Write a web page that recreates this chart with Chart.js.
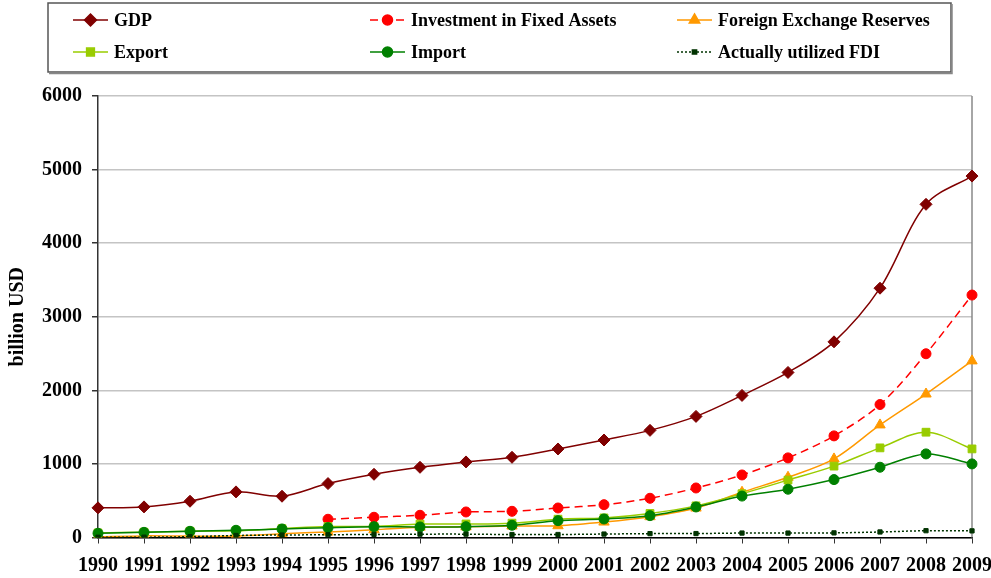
<!DOCTYPE html>
<html>
<head>
<meta charset="utf-8">
<script src="https://cdn.jsdelivr.net/npm/chart.js@4/dist/chart.umd.min.js"></script>
<style>
  html, body { margin: 0; padding: 0; background: #fff; overflow: hidden; }
  #wrap { width: 991px; height: 578px; }
</style>
</head>
<body>
<div id="wrap"><canvas id="chart" width="991" height="578"></canvas></div>
<script>
// Data (billion USD)
const years = ['1990', '1991', '1992', '1993', '1994', '1995', '1996', '1997', '1998', '1999',
  '2000', '2001', '2002', '2003', '2004', '2005', '2006', '2007', '2008', '2009'];
const gdp = [403, 416, 493, 620, 561, 733, 859, 954, 1027, 1090, 1203, 1325, 1456, 1646, 1931, 2243, 2659, 3388, 4528, 4912];
const investment = [null, null, null, null, null, 248, 275, 302, 347, 356, 401, 446, 533, 673, 850, 1082, 1381, 1807, 2497, 3295];
const reserves = [11, 22, 19, 21, 52, 74, 105, 140, 145, 156, 160, 210, 283, 400, 615, 819, 1068, 1530, 1950, 2400];
const exports = [62, 72, 85, 92, 121, 149, 151, 183, 184, 195, 249, 266, 326, 430, 595, 780, 970, 1218, 1431, 1204];
const imports = [57, 70, 84, 98, 116, 134, 147, 143, 147, 166, 229, 252, 297, 415, 563, 656, 787, 955, 1136, 1000];
const fdi = [3.5, 4.4, 11, 27.5, 33.8, 37.5, 41.7, 45.3, 45.5, 40.3, 40.7, 46.9, 52.7, 53.5, 60.6, 60.3, 63, 74.8, 92.4, 90];

const seriesNames = ['GDP', 'Investment in Fixed Assets', 'Foreign Exchange Reserves', 'Export', 'Import', 'Actually utilized FDI'];
const yTicks = [0, 1000, 2000, 3000, 4000, 5000, 6000];

const SERIF = '"Liberation Serif", "Times New Roman", serif';

function line(label, data, color, style, radius, dash, order) {
  return {
    label,
    data,
    borderColor: color,
    backgroundColor: color,
    pointBackgroundColor: color,
    pointBorderColor: color,
    pointStyle: style,
    pointRadius: radius,
    pointBorderWidth: 1,
    borderWidth: 1.5,
    borderDash: dash,
    tension: 0.33,
    fill: false,
    order
  };
}

// Boxed two-row legend like the original
const boxLegend = {
  id: 'boxLegend',
  afterDraw(chart) {
    const ctx = chart.ctx;
    ctx.save();
    ctx.strokeStyle = '#555';
    ctx.lineWidth = 1.5;
    ctx.strokeRect(48, 3, 903, 69);
    ctx.strokeStyle = '#888';
    ctx.beginPath();
    ctx.moveTo(49, 73.5); ctx.lineTo(952, 73.5); ctx.lineTo(952, 4);
    ctx.stroke();

    const colX = [73, 370, 677];
    const rowY = [20, 52];
    chart.data.datasets.forEach((ds, i) => {
      const x = colX[i % 3];
      const y = rowY[Math.floor(i / 3)];
      ctx.strokeStyle = ds.borderColor;
      ctx.lineWidth = 1.5;
      ctx.setLineDash(ds.borderDash || []);
      ctx.beginPath();
      ctx.moveTo(x, y); ctx.lineTo(x + 35, y);
      ctx.stroke();
      ctx.setLineDash([]);
      ctx.fillStyle = ds.pointBackgroundColor;
      ctx.strokeStyle = ds.pointBorderColor;
      if (Chart.helpers && Chart.helpers.drawPoint) {
        Chart.helpers.drawPoint(ctx, {
          pointStyle: ds.pointStyle, radius: ds.pointRadius, rotation: 0, borderWidth: 1
        }, x + 17.5, y);
      }
      ctx.fillStyle = '#000';
      ctx.font = 'bold 18px ' + SERIF;
      ctx.textBaseline = 'middle';
      ctx.textAlign = 'left';
      ctx.fillText(ds.label, x + 41, y + 1);
    });
    ctx.restore();
  }
};

// Gray right border of the plot area
const plotBorder = {
  id: 'plotBorder',
  beforeDatasetsDraw(chart) {
    const { ctx, chartArea } = chart;
    ctx.save();
    ctx.strokeStyle = '#888';
    ctx.lineWidth = 1.5;
    ctx.beginPath();
    ctx.moveTo(chartArea.right, chartArea.top);
    ctx.lineTo(chartArea.right, chartArea.bottom);
    ctx.stroke();
    ctx.restore();
  }
};

const ctx = document.getElementById('chart').getContext('2d');
new Chart(ctx, {
  type: 'line',
  data: {
    labels: years,
    datasets: [
      line(seriesNames[0], gdp, '#800000', 'rectRot', 6, [], 6),
      line(seriesNames[1], investment, '#FF0000', 'circle', 5, [8, 5], 5),
      line(seriesNames[2], reserves, '#FF9900', 'triangle', 6, [], 4),
      line(seriesNames[3], exports, '#99CC00', 'rect', 5.5, [], 3),
      line(seriesNames[4], imports, '#008000', 'circle', 5, [], 2),
      line(seriesNames[5], fdi, '#003300', 'rect', 3, [2, 2], 1)
    ]
  },
  options: {
    responsive: false,
    animation: false,
    devicePixelRatio: 1,
    layout: { padding: { top: 96, right: 19, bottom: 0, left: 0 } },
    plugins: {
      legend: { display: false },
      tooltip: { enabled: false }
    },
    scales: {
      x: {
        offset: false,
        grid: { drawOnChartArea: false, color: '#000', tickColor: '#333', tickLength: 6, lineWidth: 1 },
        border: { color: '#000', width: 1.5 },
        ticks: {
          autoSkip: false, maxRotation: 0, minRotation: 0, padding: 10,
          color: '#000', font: { family: SERIF, size: 20, weight: 'bold' }
        },
        afterFit(scale) {
          scale.height = 40.5;
          scale.paddingLeft = 0;
          scale.paddingRight = 0;
        }
      },
      y: {
        min: 0,
        max: 6000,
        afterBuildTicks(scale) {
          scale.ticks = yTicks.map(v => ({ value: v }));
        },
        grid: { color: '#c4c4c4', lineWidth: 1.5, tickColor: '#333', tickLength: 6 },
        border: { color: '#333', width: 1.5 },
        ticks: {
          padding: 10,
          callback: v => String(v),
          color: '#000', font: { family: SERIF, size: 20, weight: 'bold' }
        },
        title: {
          display: true,
          text: 'billion USD',
          color: '#000',
          font: { family: SERIF, size: 20, weight: 'bold' },
          padding: { top: 6, bottom: 4 }
        },
        afterFit(scale) {
          scale.width = 98;
        }
      }
    }
  },
  plugins: [boxLegend, plotBorder]
});
</script>
</body>
</html>
